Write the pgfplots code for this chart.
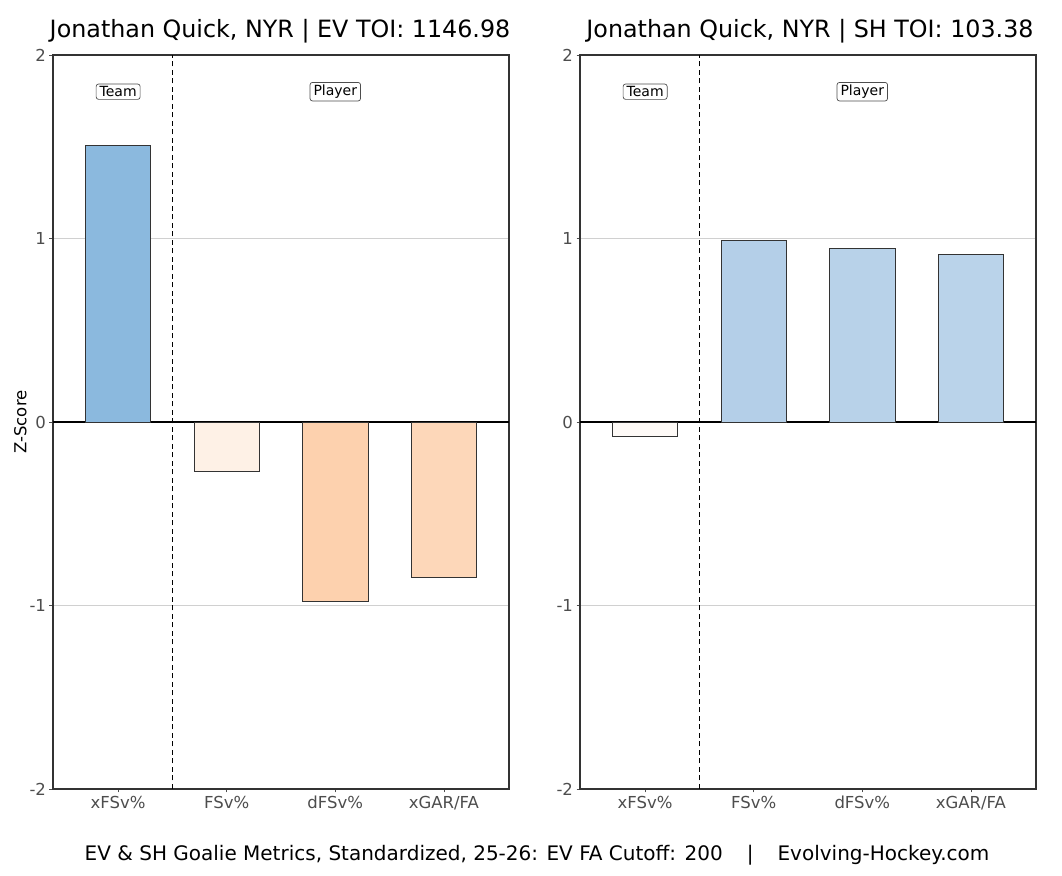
\documentclass[border=0pt]{standalone}
\usepackage{fontspec}
\setmainfont{DejaVu Sans}
\usepackage{pgfplots}
\pgfplotsset{compat=1.18}

\definecolor{tickgray}{HTML}{4D4D4D}
\definecolor{gridgray}{HTML}{D0D0D0}
\definecolor{barline}{HTML}{333333}
\definecolor{lxfsv}{HTML}{8BB9DE}
\definecolor{lfsv}{HTML}{FEF1E6}
\definecolor{ldfsv}{HTML}{FDD1AE}
\definecolor{lxgar}{HTML}{FDD7B9}
\definecolor{rxfsv}{HTML}{FEFAF7}
\definecolor{rfsv}{HTML}{B4CFE8}
\definecolor{rdfsv}{HTML}{B8D2E9}
\definecolor{rxgar}{HTML}{BAD3EA}

\tikzset{
  tag/.style={draw=tickgray, rounded corners=2.5pt, line width=0.7pt,
    inner xsep=3.5pt, inner ysep=2.5pt, font=\fontsize{14}{15}\selectfont, fill=white},
}
\pgfplotsset{
  goalie/.style={
    scale only axis,
    width=456pt, height=734pt,
    anchor=south west,
    xmin=-0.6, xmax=3.6,
    ymin=-2, ymax=2,
    ytick={-2,-1,0,1,2},
    xtick={0,1,2,3},
    xticklabels={xFSv\%, FSv\%, dFSv\%, xGAR/FA},
    xtick pos=left, ytick pos=left,
    ymajorgrids,
    grid style={gridgray, line width=0.7pt},
    axis line style={barline, line width=1.2pt},
    tick align=outside,
    major tick length=3.5pt,
    tick style={tickgray, line width=0.7pt},
    ticklabel style={font=\fontsize{16.5}{18}\selectfont, text=tickgray},
    /pgf/number format/assume math mode=true,
    ybar, bar width=0.6, bar shift=0pt,
    every axis plot/.append style={draw=barline, line width=0.7pt},
    clip=false,
  },
}

\begin{document}
\begin{tikzpicture}
\path (0,0) rectangle (1062pt,875pt);

\begin{axis}[goalie, at={(53pt,86pt)},
  ylabel={Z-Score},
  ylabel style={font=\fontsize{16.5}{18}\selectfont, yshift=-4pt}]
\draw[black, line width=1.1pt] (axis cs:-0.6,0) -- (axis cs:3.6,0);
\addplot[fill=lxfsv] coordinates {(0,1.51)};
\addplot[fill=lfsv] coordinates {(1,-0.27)};
\addplot[fill=ldfsv] coordinates {(2,-0.975)};
\addplot[fill=lxgar] coordinates {(3,-0.845)};
\draw[black, line width=0.9pt, dash pattern=on 5pt off 3.5pt] (axis cs:0.5,-2) -- (axis cs:0.5,2);
\node[tag] at (axis cs:0,1.8) {Team};
\node[tag] at (axis cs:2,1.8) {Player};
\end{axis}

\begin{axis}[goalie, at={(580pt,86pt)}]
\draw[black, line width=1.1pt] (axis cs:-0.6,0) -- (axis cs:3.6,0);
\addplot[fill=rxfsv] coordinates {(0,-0.076)};
\addplot[fill=rfsv] coordinates {(1,0.99)};
\addplot[fill=rdfsv] coordinates {(2,0.948)};
\addplot[fill=rxgar] coordinates {(3,0.915)};
\draw[black, line width=0.9pt, dash pattern=on 5pt off 3.5pt] (axis cs:0.5,-2) -- (axis cs:0.5,2);
\node[tag] at (axis cs:0,1.8) {Team};
\node[tag] at (axis cs:2,1.8) {Player};
\end{axis}

\node[font=\fontsize{23.8}{26}\selectfont] at (280pt,844pt) {Jonathan Quick, NYR | EV TOI: 1146.98};
\node[font=\fontsize{23.8}{26}\selectfont] at (810pt,844pt) {Jonathan Quick, NYR | SH TOI: 103.38};
\node[font=\fontsize{20}{22}\selectfont] at (537pt,20pt) {EV \& SH Goalie Metrics, Standardized, 25-26: EV FA Cutoff: 200\hspace{1.2em}|\hspace{1.2em}Evolving-Hockey.com};
\end{tikzpicture}
\end{document}
